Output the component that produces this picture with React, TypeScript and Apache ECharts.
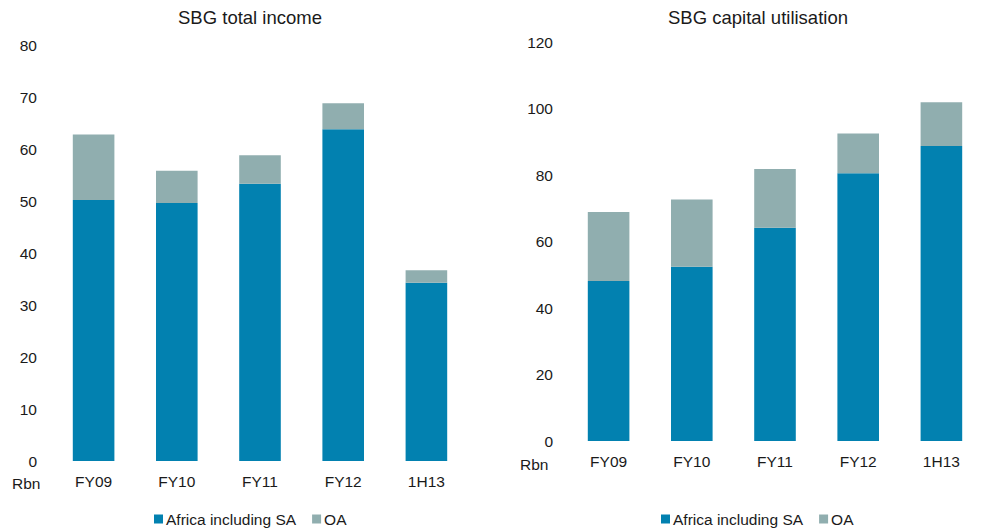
import React, { useEffect, useRef } from "react";
import * as echarts from "echarts";

const categories = ["FY09", "FY10", "FY11", "FY12", "1H13"];
const incomeAfrica = [50.2, 49.6, 53.3, 63.8, 34.3];
const incomeOA = [12.6, 6.2, 5.5, 5.0, 2.4];
const capitalAfrica = [48.1, 52.4, 64.1, 80.5, 88.7];
const capitalOA = [20.8, 20.2, 17.7, 12.0, 13.2];
const seriesNames = ["Africa including SA", "OA"];

const AFRICA = "#0281B0";
const OA = "#90AEAF";
const FONT = "'Liberation Sans', Arial, sans-serif";
const FS = 15.5;

export default function App() {
  const ref = useRef<HTMLDivElement>(null);
  useEffect(() => {
    if (!ref.current) return;
    const chart = echarts.init(ref.current, undefined, { renderer: "svg" });
    const axisLabel = { color: "#1a1a1a", fontSize: FS, fontFamily: FONT };
    const legendCommon = {
      data: seriesNames,
      icon: "rect",
      itemWidth: 9,
      itemHeight: 9,
      itemGap: 16,
      itemStyle: { borderWidth: 0 },
      textStyle: { color: "#1a1a1a", fontSize: FS, fontFamily: FONT, padding: [0, 0, 0, -2] },
      top: 506,
    };
    const titleStyle = { fontSize: 18.5, fontWeight: "normal", color: "#1a1a1a", fontFamily: FONT };
    chart.setOption({
      animation: false,
      color: [AFRICA, OA],
      title: [
        { text: "SBG total income", left: 245, top: 3, textAlign: "center", textStyle: titleStyle },
        { text: "SBG capital utilisation", left: 753, top: 3, textAlign: "center", textStyle: titleStyle },
      ],
      legend: [
        { ...legendCommon, left: 149 },
        { ...legendCommon, left: 656 },
      ],
      grid: [
        { left: 52, top: 45, width: 416, height: 416 },
        { left: 567, top: 42, width: 416, height: 399 },
      ],
      xAxis: [0, 1].map((i) => ({
        type: "category",
        gridIndex: i,
        data: categories,
        axisLine: { show: false },
        axisTick: { show: false },
        axisLabel: { ...axisLabel, margin: 12 },
      })),
      yAxis: [
        { type: "value", gridIndex: 0, min: 0, max: 80, interval: 10, splitLine: { show: false }, axisLine: { show: false }, axisTick: { show: false }, axisLabel: { ...axisLabel, margin: 15 } },
        { type: "value", gridIndex: 1, min: 0, max: 120, interval: 20, splitLine: { show: false }, axisLine: { show: false }, axisTick: { show: false }, axisLabel: { ...axisLabel, margin: 14 } },
      ],
      graphic: [
        { type: "text", left: 12, top: 475, style: { text: "Rbn", fontSize: FS, fontFamily: FONT, fill: "#1a1a1a" } },
        { type: "text", left: 520, top: 456, style: { text: "Rbn", fontSize: FS, fontFamily: FONT, fill: "#1a1a1a" } },
      ],
      series: [
        { name: seriesNames[0], type: "bar", stack: "a", xAxisIndex: 0, yAxisIndex: 0, data: incomeAfrica, barWidth: "50%", itemStyle: { color: AFRICA } },
        { name: seriesNames[1], type: "bar", stack: "a", xAxisIndex: 0, yAxisIndex: 0, data: incomeOA, barWidth: "50%", itemStyle: { color: OA } },
        { name: seriesNames[0], type: "bar", stack: "b", xAxisIndex: 1, yAxisIndex: 1, data: capitalAfrica, barWidth: "50%", itemStyle: { color: AFRICA } },
        { name: seriesNames[1], type: "bar", stack: "b", xAxisIndex: 1, yAxisIndex: 1, data: capitalOA, barWidth: "50%", itemStyle: { color: OA } },
      ],
    });
    return () => chart.dispose();
  }, []);
  return <div ref={ref} style={{ position: "fixed", left: 0, top: 0, width: 985, height: 531, background: "#fff" }} />;
}
